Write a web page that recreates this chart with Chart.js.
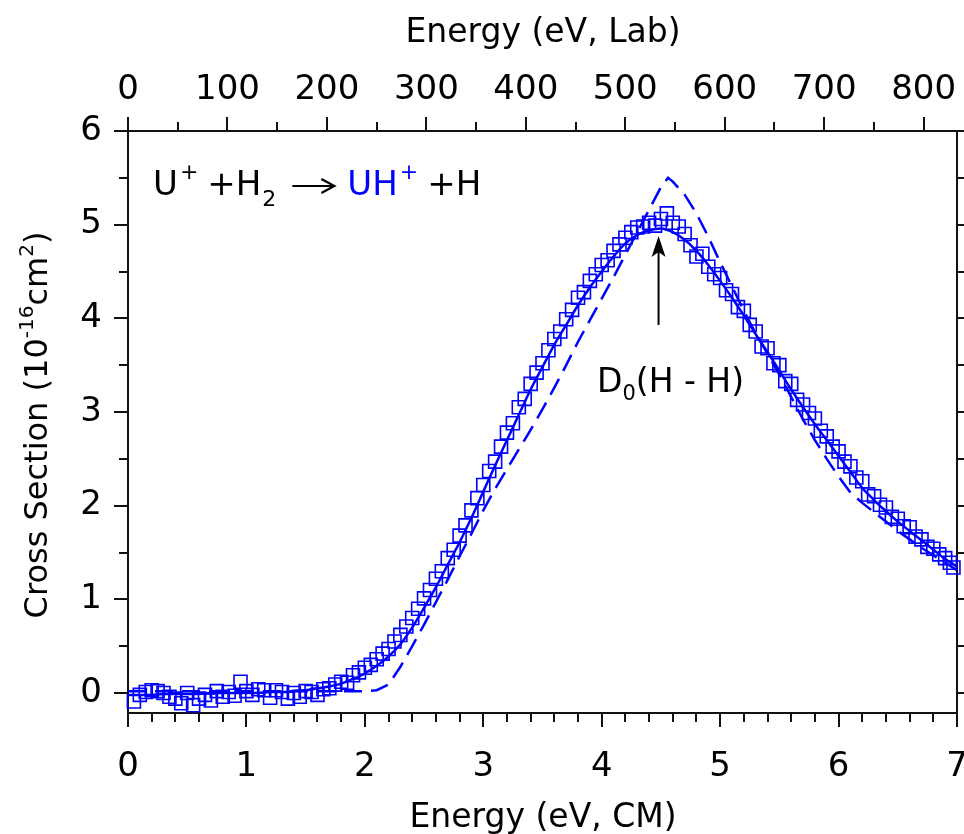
<!DOCTYPE html>
<html>
<head>
<meta charset="utf-8">
<script src="https://cdn.jsdelivr.net/npm/chart.js@4.4.1/dist/chart.umd.min.js"></script>
<style>
  html, body { margin: 0; padding: 0; background: #fff; }
  canvas { display: block; }
</style>
</head>
<body>
<canvas id="chart" width="964" height="834"></canvas>
<script>
// measured cross sections (open squares)
const energyCM = [
  0.05, 0.10, 0.15, 0.20, 0.25, 0.30, 0.35, 0.40, 0.45, 0.50,
  0.55, 0.60, 0.65, 0.70, 0.75, 0.80, 0.85, 0.90, 0.95, 1.00,
  1.05, 1.10, 1.15, 1.20, 1.25, 1.30, 1.35, 1.40, 1.45, 1.50,
  1.55, 1.60, 1.65, 1.70, 1.75, 1.80, 1.85, 1.90, 1.95, 2.00,
  2.05, 2.10, 2.15, 2.20, 2.25, 2.30, 2.35, 2.40, 2.45, 2.50,
  2.55, 2.60, 2.65, 2.70, 2.75, 2.80, 2.85, 2.90, 2.95, 3.00,
  3.05, 3.10, 3.15, 3.20, 3.25, 3.30, 3.35, 3.40, 3.45, 3.50,
  3.55, 3.60, 3.65, 3.70, 3.75, 3.80, 3.85, 3.90, 3.95, 4.00,
  4.05, 4.10, 4.15, 4.20, 4.25, 4.30, 4.35, 4.40, 4.45, 4.50,
  4.55, 4.60, 4.65, 4.70, 4.75, 4.80, 4.85, 4.90, 4.95, 5.00,
  5.05, 5.10, 5.15, 5.20, 5.25, 5.30, 5.35, 5.40, 5.45, 5.50,
  5.55, 5.60, 5.65, 5.70, 5.75, 5.80, 5.85, 5.90, 5.95, 6.00,
  6.05, 6.10, 6.15, 6.20, 6.25, 6.30, 6.35, 6.40, 6.45, 6.50,
  6.55, 6.60, 6.65, 6.70, 6.75, 6.80, 6.85, 6.90, 6.94, 6.97
];
const crossSection = [
  -0.09, -0.02, 0.01, 0.03, 0.02, 0.00, -0.04, -0.06, -0.11, 0.00,
  -0.13, -0.06, -0.02, -0.08, 0.02, -0.04, 0.01, -0.03, 0.12, 0.02,
  -0.02, 0.04, 0.03, -0.05, 0.03, 0.01, -0.06, 0.00, -0.04, 0.02,
  0.01, -0.02, 0.04, 0.05, 0.09, 0.12, 0.11, 0.19, 0.22, 0.27,
  0.30, 0.36, 0.42, 0.47, 0.55, 0.62, 0.71, 0.80, 0.90, 1.01,
  1.10, 1.22, 1.30, 1.44, 1.53, 1.68, 1.79, 1.95, 2.08, 2.22,
  2.37, 2.47, 2.63, 2.78, 2.88, 3.05, 3.14, 3.30, 3.42, 3.52,
  3.66, 3.78, 3.86, 3.99, 4.09, 4.22, 4.28, 4.40, 4.47, 4.57,
  4.62, 4.72, 4.79, 4.86, 4.92, 4.97, 4.98, 5.02, 4.99, 5.06,
  5.12, 5.02, 4.98, 4.90, 4.78, 4.66, 4.69, 4.55, 4.47, 4.43,
  4.30, 4.26, 4.12, 4.08, 3.93, 3.86, 3.70, 3.68, 3.52, 3.50,
  3.33, 3.30, 3.13, 3.08, 2.99, 2.93, 2.80, 2.74, 2.63, 2.58,
  2.47, 2.42, 2.30, 2.26, 2.12, 2.10, 2.01, 1.98, 1.88, 1.86,
  1.78, 1.77, 1.67, 1.64, 1.56, 1.54, 1.48, 1.44, 1.39, 1.34
];

// convoluted model fit (solid line)
const fitEnergy = [
  0.0, 0.1, 0.2, 0.3, 0.4, 0.5, 0.6, 0.7, 0.8, 0.9,
  1.0, 1.1, 1.2, 1.3, 1.4, 1.5, 1.6, 1.7, 1.8, 1.9,
  2.0, 2.1, 2.2, 2.3, 2.4, 2.5, 2.6, 2.7, 2.8, 2.9,
  3.0, 3.1, 3.2, 3.3, 3.4, 3.5, 3.6, 3.7, 3.8, 3.9,
  4.0, 4.1, 4.2, 4.3, 4.4, 4.5, 4.6, 4.7, 4.8, 4.9,
  5.0, 5.1, 5.2, 5.3, 5.4, 5.5, 5.6, 5.7, 5.8, 5.9,
  6.0, 6.1, 6.2, 6.3, 6.4, 6.5, 6.6, 6.7, 6.8, 6.9, 7.0
];
const fitSigma = [
  -0.02, -0.02, -0.02, -0.01, -0.01, -0.01, -0.01, 0.00, 0.00, 0.00,
  0.00, 0.00, 0.01, 0.01, 0.02, 0.03, 0.05, 0.07, 0.10, 0.15,
  0.21, 0.29, 0.39, 0.52, 0.70, 0.91, 1.13, 1.37, 1.61, 1.87,
  2.15, 2.43, 2.70, 2.97, 3.24, 3.48, 3.72, 3.93, 4.14, 4.33,
  4.50, 4.66, 4.80, 4.89, 4.94, 4.96, 4.92, 4.84, 4.72, 4.57,
  4.40, 4.22, 4.03, 3.83, 3.64, 3.44, 3.24, 3.05, 2.87, 2.70,
  2.53, 2.36, 2.19, 2.06, 1.94, 1.83, 1.73, 1.63, 1.53, 1.43, 1.35
];

// unconvoluted model (dashed line)
const modelEnergy = [
  0.0, 1.0, 2.0, 2.1, 2.2, 2.3, 2.4, 2.5, 2.6, 2.7,
  2.8, 2.9, 3.0, 3.1, 3.2, 3.3, 3.4, 3.5, 3.6, 3.7,
  3.8, 3.9, 4.0, 4.1, 4.2, 4.3, 4.4, 4.5, 4.56, 4.6,
  4.7, 4.8, 4.9, 5.0, 5.1, 5.2, 5.3, 5.4, 5.5, 5.6,
  5.7, 5.8, 5.9, 6.0, 6.1, 6.2, 6.3, 6.4, 6.5, 6.6,
  6.7, 6.8, 6.9, 7.0
];
const modelSigma = [
  0.02, 0.02, 0.02, 0.03, 0.09, 0.28, 0.50, 0.73, 0.97, 1.21,
  1.46, 1.70, 1.95, 2.18, 2.39, 2.60, 2.81, 3.03, 3.26, 3.50,
  3.75, 3.98, 4.21, 4.44, 4.68, 4.92, 5.16, 5.40, 5.50, 5.46,
  5.32, 5.12, 4.87, 4.60, 4.34, 4.08, 3.84, 3.62, 3.40, 3.16,
  2.92, 2.70, 2.50, 2.31, 2.14, 2.03, 1.93, 1.83, 1.73, 1.64,
  1.55, 1.47, 1.39, 1.31
];

const labPerCM = 119.08;          // (m(U) + m(H2)) / m(H2)
const d0HH = 4.48;                // arrow position, eV CM
const BLUE = '#0000ff';
const FONT = '"DejaVu Sans", "Liberation Sans", sans-serif';

const pts = (xs, ys) => xs.map((x, i) => ({ x: x, y: ys[i] }));

// tick marks on all four sides (major + minor), outward
const frameTicks = {
  id: 'frameTicks',
  afterDraw(chart) {
    const { ctx, chartArea: a, scales } = chart;
    const seg = (x1, y1, x2, y2) => { ctx.beginPath(); ctx.moveTo(x1, y1); ctx.lineTo(x2, y2); ctx.stroke(); };
    ctx.save();
    ctx.strokeStyle = '#111';
    ctx.lineWidth = 2;
    for (let i = 0; i <= 35; i++) {
      const px = Math.round(scales.x.getPixelForValue(i * 0.2));
      seg(px, a.bottom, px, a.bottom + (i % 5 === 0 ? 14 : 9));
    }
    for (let i = 0; i <= 16; i++) {
      const px = Math.round(scales.x2.getPixelForValue(i * 50));
      seg(px, a.top, px, a.top - (i % 2 === 0 ? 14 : 9));
    }
    for (let i = 0; i <= 12; i++) {
      const py = Math.round(scales.y.getPixelForValue(i * 0.5));
      seg(a.left, py, a.left - (i % 2 === 0 ? 14 : 9), py);
      seg(a.right, py, a.right + 9, py);
    }
    ctx.restore();
  }
};

// draws a run of text pieces left to right; gap = space before piece
function drawRun(ctx, parts, x, baseY) {
  let cx = x;
  parts.forEach(p => {
    cx += p.gap || 0;
    if (p.arrow) {
      ctx.strokeStyle = '#000';
      ctx.lineWidth = 2.2;
      ctx.beginPath();
      ctx.moveTo(cx, baseY - 9); ctx.lineTo(cx + p.arrow, baseY - 9);
      ctx.moveTo(cx + p.arrow - 13, baseY - 16); ctx.lineTo(cx + p.arrow, baseY - 9); ctx.lineTo(cx + p.arrow - 13, baseY - 2);
      ctx.stroke();
      cx += p.arrow;
      return;
    }
    ctx.font = p.size + 'px ' + FONT;
    ctx.fillStyle = p.color || '#000';
    ctx.fillText(p.text, cx, baseY + (p.dy || 0));
    cx += ctx.measureText(p.text).width;
  });
  return cx;
}

const annotations = {
  id: 'annotations',
  afterDraw(chart) {
    const { ctx, scales } = chart;
    ctx.save();
    ctx.textBaseline = 'alphabetic';

    // axis titles
    ctx.font = '33px ' + FONT;
    ctx.fillStyle = '#000';
    ctx.textAlign = 'center';
    ctx.fillText('Energy (eV, Lab)', 543, 42);
    ctx.fillText('Energy (eV, CM)', 543, 827);

    // y title with superscripts, rotated
    ctx.textAlign = 'left';
    const yParts = [
      { text: 'Cross Section (10', size: 32 },
      { text: '-16', size: 20, dy: -14 },
      { text: 'cm', size: 32 },
      { text: '2', size: 20, dy: -14 },
      { text: ')', size: 32 }
    ];
    let total = 0;
    yParts.forEach(p => { ctx.font = p.size + 'px ' + FONT; total += ctx.measureText(p.text).width; });
    ctx.save();
    ctx.translate(47, 425);
    ctx.rotate(-Math.PI / 2);
    drawRun(ctx, yParts, -total / 2, 0);
    ctx.restore();

    // reaction label
    drawRun(ctx, [
      { text: 'U', size: 34 },
      { text: '+', size: 22, dy: -16, gap: 2 },
      { text: '+', size: 34, gap: 9 },
      { text: 'H', size: 34 },
      { text: '2', size: 22, dy: 11, gap: 1 },
      { arrow: 42, gap: 16 },
      { text: 'UH', size: 34, color: BLUE, gap: 13 },
      { text: '+', size: 22, dy: -16, color: BLUE, gap: 2 },
      { text: '+', size: 34, gap: 9 },
      { text: 'H', size: 34 }
    ], 153, 195);

    // D0(H-H) arrow
    const ax = scales.x.getPixelForValue(d0HH);
    const yTail = scales.y.getPixelForValue(3.93);
    const yTip = scales.y.getPixelForValue(4.88);
    ctx.strokeStyle = '#000';
    ctx.lineWidth = 2;
    ctx.beginPath();
    ctx.moveTo(ax, yTail); ctx.lineTo(ax, yTip + 6);
    ctx.stroke();
    ctx.fillStyle = '#000';
    ctx.beginPath();
    ctx.moveTo(ax, yTip);
    ctx.lineTo(ax - 7, yTip + 21);
    ctx.lineTo(ax, yTip + 16);
    ctx.lineTo(ax + 7, yTip + 21);
    ctx.closePath();
    ctx.fill();

    drawRun(ctx, [
      { text: 'D', size: 33 },
      { text: '0', size: 21, dy: 8 },
      { text: '(H - H)', size: 33 }
    ], 597, 392);
    ctx.restore();
  }
};

const axisBorder = { display: true, color: '#111', width: 2 };
const noGrid = { display: true, drawOnChartArea: false, drawTicks: false };
const tickFont = { family: FONT, size: 34 };
// keep the frame where it is: no extra room for overhanging end labels
const fixPad = s => {
  s.paddingLeft = 0; s.paddingRight = 0; s.paddingTop = 0; s.paddingBottom = 0;
  s.getPadding = () => ({ left: 0, top: 0, right: 0, bottom: 0 });
};

new Chart(document.getElementById('chart'), {
  type: 'scatter',
  data: {
    datasets: [
      {
        label: 'fit',
        data: pts(fitEnergy, fitSigma),
        showLine: true,
        borderColor: BLUE,
        borderWidth: 2.5,
        pointRadius: 0,
        cubicInterpolationMode: 'monotone',
        order: 1
      },
      {
        label: 'model',
        data: pts(modelEnergy, modelSigma),
        showLine: true,
        borderColor: BLUE,
        borderWidth: 2.5,
        borderDash: [18, 9],
        pointRadius: 0,
        tension: 0,
        order: 2
      },
      {
        label: 'data',
        data: pts(energyCM, crossSection),
        showLine: false,
        pointStyle: 'rect',
        pointRadius: 9.2,
        borderColor: BLUE,
        backgroundColor: 'rgba(0,0,0,0)',
        borderWidth: 1.6,
        clip: false,
        order: 3
      }
    ]
  },
  options: {
    responsive: false,
    animation: false,
    events: [],
    layout: { padding: 0, autoPadding: false },
    plugins: {
      legend: { display: false },
      tooltip: { enabled: false }
    },
    scales: {
      x: {
        type: 'linear',
        position: 'bottom',
        min: 0,
        max: 7,
        border: axisBorder,
        grid: noGrid,
        ticks: { stepSize: 1, autoSkip: false, maxRotation: 0, padding: 34, color: '#000', font: tickFont },
        afterFit: s => { s.height = 121; fixPad(s); }
      },
      x2: {
        type: 'linear',
        position: 'top',
        min: 0,
        max: 7 * labPerCM,
        border: axisBorder,
        grid: noGrid,
        ticks: { stepSize: 100, includeBounds: false, autoSkip: false, maxRotation: 0, padding: 20, color: '#000', font: tickFont },
        afterFit: s => { s.height = 131; fixPad(s); }
      },
      y: {
        type: 'linear',
        position: 'left',
        min: -0.2135,
        max: 6,
        border: axisBorder,
        grid: noGrid,
        ticks: { stepSize: 1, includeBounds: false, autoSkip: false, padding: 26, color: '#000', font: tickFont },
        afterFit: s => { s.width = 128; fixPad(s); }
      },
      y2: {
        type: 'linear',
        position: 'right',
        min: -0.2135,
        max: 6,
        border: axisBorder,
        grid: noGrid,
        ticks: { display: false },
        afterFit: s => { s.width = 7; fixPad(s); }
      }
    }
  },
  plugins: [frameTicks, annotations]
});
</script>
</body>
</html>
